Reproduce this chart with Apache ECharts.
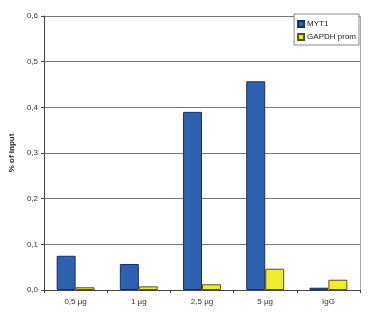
<!DOCTYPE html>
<html><head><meta charset="utf-8">
<script src="https://cdn.jsdelivr.net/npm/echarts@6/dist/echarts.min.js"></script>
<style>html,body{margin:0;padding:0;background:#fff}#c{width:380px;height:317px}</style>
</head><body><div id="c"></div>
<script>
const categories = ['0,5 µg', '1 µg', '2,5 µg', '5 µg', 'IgG'];
const myt1 = [0.075, 0.057, 0.39, 0.457, 0.005];
const gapdh = [0.006, 0.008, 0.0125, 0.0466, 0.0225];
const seriesNames = ['MYT1', 'GAPDH prom'];
const chart = echarts.init(document.getElementById('c'), null, {renderer: 'canvas'});
const font = 'Liberation Sans';
chart.setOption({
  animation: false,
  backgroundColor: '#fff',
  grid: {left: 42, right: 20, top: 16, bottom: 27},
  legend: {
    right: 21, top: 14, orient: 'vertical', itemWidth: 6, itemHeight: 6, itemGap: 5,
    padding: [6, 3, 4, 3], borderColor: '#888', borderWidth: 1, backgroundColor: '#fff',
    textStyle: {fontFamily: font, fontSize: 8, color: '#222', padding: [0, 0, 0, -2]},
    data: [{name: seriesNames[0], icon: 'rect'}, {name: seriesNames[1], icon: 'rect'}]
  },
  xAxis: {
    type: 'category', data: categories,
    axisLine: {lineStyle: {color: '#444', width: 1}},
    axisTick: {show: true, inside: false, length: 3, lineStyle: {color: '#444'}},
    axisLabel: {fontFamily: font, fontSize: 8, color: '#333', margin: 8}
  },
  yAxis: {
    type: 'value', min: 0, max: 0.6, interval: 0.1,
    name: '% of input', nameLocation: 'middle', nameGap: 27, nameRotate: 90,
    nameTextStyle: {fontFamily: font, fontSize: 8, fontWeight: 'bold', color: '#222'},
    axisLine: {show: true, lineStyle: {color: '#444', width: 1}},
    axisTick: {show: true, length: 3, lineStyle: {color: '#444'}},
    axisLabel: {fontFamily: font, fontSize: 8, color: '#333', margin: 6,
      formatter: v => v.toFixed(1).replace('.', ',')},
    splitLine: {show: true, lineStyle: {color: '#777', width: 1}}
  },
  series: [
    {name: seriesNames[0], type: 'bar', data: myt1, barGap: '0%', barCategoryGap: '40%',
     itemStyle: {color: '#2d62b0', borderColor: '#1a2e5a', borderWidth: 1}},
    {name: seriesNames[1], type: 'bar', data: gapdh,
     itemStyle: {color: '#f0ea30', borderColor: '#55531a', borderWidth: 1}}
  ],
  graphic: [{type: 'line', shape: {x1: 360.5, y1: 16, x2: 360.5, y2: 290}, style: {stroke: '#aaa', lineWidth: 1}, z: 0}]
});
</script></body></html>
